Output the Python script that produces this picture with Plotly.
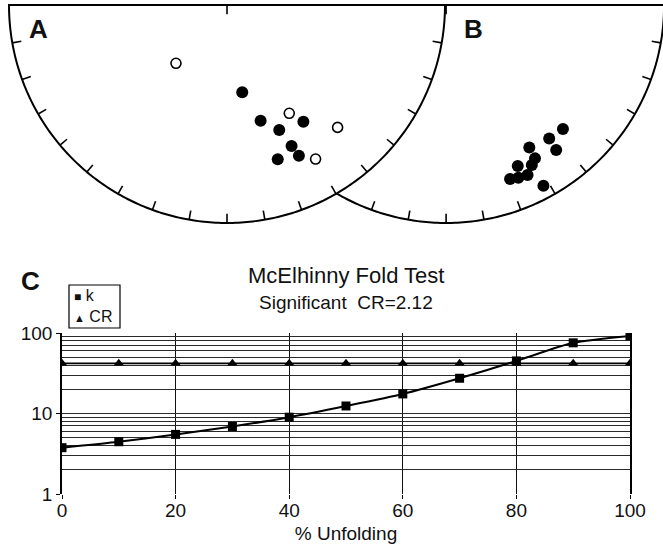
import numpy as np
import plotly.graph_objects as go

# ---------------- Data ----------------
# Panel C: McElhinny fold test
unfolding = [0, 10, 20, 30, 40, 50, 60, 70, 80, 90, 100]
k_values = [3.76, 4.46, 5.5, 6.9, 9.0, 12.4, 17.5, 27.4, 45.0, 75.5, 92.0]
cr_values = [42, 42, 42, 42, 42, 42, 42, 42, 42, 42, 42]
x_ticks = [0, 20, 40, 60, 80, 100]
y_ticks = [1, 10, 100]
y_ticklabels = ["1", "10", "100"]
y_grid = [2, 3, 4, 5, 6, 7, 8, 9, 10, 20, 30, 40, 50, 60, 70, 80, 90, 100]

# Panel A: directions (declination, inclination), filled = lower hemisphere, open = upper
a_filled_dec = [170.1, 163.8, 157.3, 146.8, 155.4, 154.5, 161.8]
a_filled_inc = [56.6, 44.0, 37.9, 36.2, 29.6, 24.4, 26.4]
a_open_dec = [221.2, 150.1, 137.9, 150.1]
a_open_inc = [60.9, 42.2, 25.3, 19.6]
# Panel B
b_dec = [136.7, 142.3, 142.8, 149.7, 149.9, 151.8, 156.0, 154.4, 157.3, 159.8, 151.7]
b_inc = [22.9, 23.7, 17.6, 25.3, 19.8, 17.9, 20.3, 14.6, 15.2, 16.1, 6.5]

title_text = "McElhinny Fold Test"
subtitle_text = "Significant  CR=2.12"
x_title = "% Unfolding"
panel_labels = ["A", "B", "C"]
legend_names = ["k", "CR"]

FONT = "Liberation Sans, Arial, sans-serif"
W, H = 663, 555

# ---------------- helpers ----------------
def eqarea(dec, inc, cx):
    d = np.radians(np.asarray(dec, float))
    i = np.radians(np.asarray(inc, float))
    r = np.sqrt(2.0) * np.sin((np.pi / 2 - i) / 2.0)
    return cx + r * np.sin(d), r * np.cos(d)

def net_outline(cx):
    dd = np.radians(np.linspace(90, 270, 241))
    xs = list(cx + np.sin(dd)) + [cx + 1.0]
    ys = list(np.cos(dd)) + [0.0]
    return xs, ys

def net_ticks(cx, tl=0.042):
    xs, ys = [], []
    for d in range(100, 261, 10):
        a = np.radians(d)
        xs += [cx + np.sin(a), cx + (1 - tl) * np.sin(a), None]
        ys += [np.cos(a), (1 - tl) * np.cos(a), None]
    return xs, ys

def px2paper_x(p):
    return p / W

def px2paper_y(p):
    return 1 - p / H

CA, CB = 0.0, 1.005
TL = 0.042

fig = go.Figure()

# Net B (drawn first, A overlaps it)
bx, by = net_outline(CB)
fig.add_trace(go.Scatter(x=bx, y=by, mode="lines", fill="toself", fillcolor="white",
                         line=dict(color="black", width=2, simplify=False), xaxis="x2", yaxis="y2",
                         hoverinfo="skip", showlegend=False))
tx, ty = net_ticks(CB)
fig.add_trace(go.Scatter(x=tx, y=ty, mode="lines", line=dict(color="black", width=1.6),
                         xaxis="x2", yaxis="y2", hoverinfo="skip", showlegend=False))
# Net A
ax_, ay_ = net_outline(CA)
fig.add_trace(go.Scatter(x=ax_, y=ay_, mode="lines", fill="toself", fillcolor="white",
                         line=dict(color="black", width=2, simplify=False), xaxis="x2", yaxis="y2",
                         hoverinfo="skip", showlegend=False))
tx, ty = net_ticks(CA)
fig.add_trace(go.Scatter(x=tx, y=ty, mode="lines", line=dict(color="black", width=1.6),
                         xaxis="x2", yaxis="y2", hoverinfo="skip", showlegend=False))

# Points
px, py = eqarea(a_filled_dec, a_filled_inc, CA)
fig.add_trace(go.Scatter(x=px, y=py, mode="markers", xaxis="x2", yaxis="y2",
                         marker=dict(size=12, color="black"), showlegend=False))
px, py = eqarea(a_open_dec, a_open_inc, CA)
fig.add_trace(go.Scatter(x=px, y=py, mode="markers", xaxis="x2", yaxis="y2",
                         marker=dict(size=10, color="white", line=dict(color="black", width=1.6)),
                         showlegend=False))
px, py = eqarea(b_dec, b_inc, CB)
fig.add_trace(go.Scatter(x=px, y=py, mode="markers", xaxis="x2", yaxis="y2",
                         marker=dict(size=12, color="black"), showlegend=False))

# Panel C traces
fig.add_trace(go.Scatter(x=unfolding, y=cr_values, mode="lines+markers", name=legend_names[1],
                         line=dict(color="black", width=1.6),
                         marker=dict(symbol="triangle-up", size=9, color="black"),
                         showlegend=False))
fig.add_trace(go.Scatter(x=unfolding, y=k_values, mode="lines+markers", name=legend_names[0],
                         line=dict(color="black", width=2, shape="spline", smoothing=0.6),
                         marker=dict(symbol="square", size=9, color="black"),
                         showlegend=False))

# Axes geometry (pixels -> domains)
R = 218.0
x2_range = [(0 - 227) / R, (W - 227) / R]
y2_range = [-(240 - 5) / R, 5 / R]

fig.update_layout(
    width=W, height=H, margin=dict(l=0, r=0, t=0, b=0),
    paper_bgcolor="white", plot_bgcolor="rgba(0,0,0,0)",
    font=dict(family=FONT, color="#111"),
    showlegend=False,
    xaxis=dict(domain=[62 / W, 630 / W], range=[0, 100], tickvals=x_ticks,
               ticks="outside", ticklen=4, tickcolor="black", tickwidth=1.3,
               ticklabelstandoff=-5,
               showgrid=True, gridcolor="#111", gridwidth=1.3, zeroline=False,
               showline=False, tickfont=dict(size=19, family=FONT, color="#111"),
               title=dict(text=x_title, font=dict(size=19, family=FONT, color="#111"), standoff=6),
               automargin=False, fixedrange=True),
    yaxis=dict(domain=[1 - 494 / H, 1 - 333 / H], type="log", range=[0, 2],
               tickvals=y_ticks, ticktext=y_ticklabels, ticks="outside", ticklen=4,
               tickcolor="black", tickwidth=1.3, showgrid=False, zeroline=False,
               showline=True, mirror=True, linecolor="black", linewidth=1.5,
               tickfont=dict(size=19, family=FONT, color="#111"), automargin=False),
    yaxis3=dict(domain=[1 - 494 / H, 1 - 333 / H], type="log", range=[0, 2],
                overlaying="y", tickvals=y_grid, showticklabels=False, ticks="",
                showgrid=True, gridcolor="#2a2a2a", gridwidth=1.2, zeroline=False, showline=False),
    xaxis2=dict(domain=[0, 1], range=x2_range, visible=False, fixedrange=True),
    yaxis2=dict(domain=[1 - 240 / H, 1], range=y2_range, visible=False, fixedrange=True),
)

# dummy trace to activate grid axis yaxis3
fig.add_trace(go.Scatter(x=[None], y=[None], xaxis="x", yaxis="y3", showlegend=False,
                         hoverinfo="skip"))

# top edge line of both nets and centre ticks
fig.add_shape(type="line", xref="x2", yref="y2", x0=CA - 1, x1=CB + 1, y0=0, y1=0,
              line=dict(color="black", width=2), layer="above")
for c in (CA, CB):
    fig.add_shape(type="line", xref="x2", yref="y2", x0=c, x1=c, y0=0, y1=-TL,
                  line=dict(color="black", width=1.6), layer="above")

annos = [
    dict(text="<b>%s</b>" % panel_labels[0], x=38, y=29, font=dict(size=26)),
    dict(text="<b>%s</b>" % panel_labels[1], x=473, y=29, font=dict(size=26)),
    dict(text="<b>%s</b>" % panel_labels[2], x=30, y=281, font=dict(size=26)),
    dict(text=title_text, x=346, y=275, font=dict(size=22)),
    dict(text=subtitle_text, x=346, y=302, font=dict(size=19)),
]
for a in annos:
    a["x"] = px2paper_x(a["x"])
    a["y"] = px2paper_y(a["y"])
    fig.add_annotation(xref="paper", yref="paper", showarrow=False,
                       xanchor="center", yanchor="middle", **a)

# Legend box (drawn manually for compact spacing)
fig.add_shape(type="rect", xref="paper", yref="paper",
              x0=px2paper_x(69), x1=px2paper_x(120), y0=px2paper_y(328), y1=px2paper_y(285),
              line=dict(color="black", width=1.2), fillcolor="white", layer="above")
legend_rows = [
    ('<span style="font-size:12px">■</span> ' + legend_names[0], 295.5),
    ('<span style="font-size:11px">▲</span> ' + legend_names[1], 316.5),
]
for txt, yy in legend_rows:
    fig.add_annotation(xref="paper", yref="paper", x=px2paper_x(72), y=px2paper_y(yy),
                       xanchor="left", yanchor="middle", align="left", showarrow=False,
                       text=txt, font=dict(size=16, family=FONT, color="#111"))

fig.write_html("out.html", config={"displayModeBar": False},
               post_script="document.body.style.margin='0';document.body.style.overflow='hidden';")
